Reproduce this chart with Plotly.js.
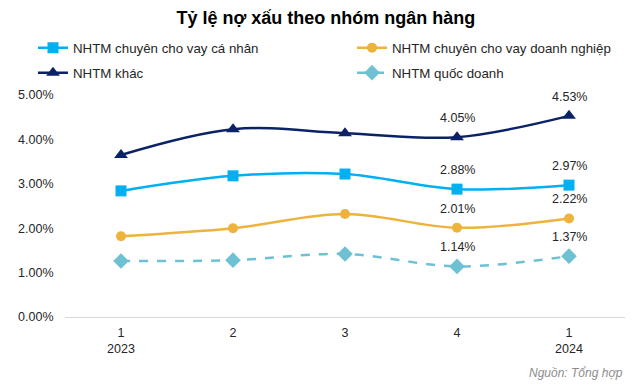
<!DOCTYPE html>
<html><head><meta charset="utf-8">
<script src="https://cdn.plot.ly/plotly-3.0.1.min.js"></script>
<style>html,body{margin:0;padding:0;background:#fff}#chart{width:639px;height:387px}</style>
</head><body><div id="chart"></div>
<script>
const categories = ["1<br>2023", "2", "3", "4", "1<br>2024"];
const caNhan = [2.84, 3.18, 3.22, 2.88, 2.97];
const doanhNghiep = [1.82, 2.00, 2.32, 2.01, 2.22];
const khac = [3.65, 4.23, 4.14, 4.05, 4.53];
const quocDoanh = [1.26, 1.28, 1.42, 1.14, 1.37];
const yTicks = [0, 1, 2, 3, 4, 5];
const labelFrom = 3;

const font = "Liberation Sans, Arial, sans-serif";
function tr(name, y, color, symbol, size, dash, legend){
  return {x: categories, y: y, name: name, type: 'scatter', mode: 'lines+markers',
    line: {color: color, width: 2.5, shape: 'spline', smoothing: 1, dash: dash},
    marker: {color: color, symbol: symbol, size: size},
    legend: legend, cliponaxis: false};
}
const series = [
  {name: 'NHTM chuyên cho vay cá nhân', y: caNhan, color: '#00B0F0', symbol: 'square', size: 11, dash: 'solid', legend: 'legend'},
  {name: 'NHTM chuyên cho vay doanh nghiệp', y: doanhNghiep, color: '#EDB33C', symbol: 'circle', size: 10, dash: 'solid', legend: 'legend2'},
  {name: 'NHTM khác', y: khac, color: '#0B2366', symbol: 'triangle-up', size: 12, dash: 'solid', legend: 'legend3'},
  {name: 'NHTM quốc doanh', y: quocDoanh, color: '#6EC1D3', symbol: 'diamond', size: 12, dash: 'dash', legend: 'legend4'}
];
const data = series.map(s => tr(s.name, s.y, s.color, s.symbol, s.size, s.dash, s.legend));

const annotations = [];
series.forEach(s => {
  s.y.forEach((v, i) => {
    if (i >= labelFrom) annotations.push({x: i, y: v, xref: 'x', yref: 'y', text: v.toFixed(2) + '%',
      showarrow: false, yshift: 19, yanchor: 'middle', font: {size: 12.5, color: '#262626', family: font}});
  });
});
annotations.push({text: '<i>Nguồn: Tổng hợp</i>', xref: 'paper', yref: 'paper', x: 1, y: -0.25, xanchor: 'right', yanchor: 'middle',
  showarrow: false, font: {size: 12, color: '#8c8c8c', family: font}});

const legendBase = {orientation: 'h', xref: 'container', yref: 'container', xanchor: 'left', yanchor: 'middle',
  font: {size: 13.3, color: '#262626', family: font}, itemwidth: 30, bgcolor: 'rgba(0,0,0,0)'};
const layout = {
  width: 639, height: 387,
  margin: {l: 65, r: 14, t: 95, b: 70},
  paper_bgcolor: '#fff', plot_bgcolor: '#fff',
  font: {family: font, color: '#262626', size: 12.5},
  title: {text: '<b>Tỷ lệ nợ xấu theo nhóm ngân hàng</b>', x: 0.51, xref: 'container', y: 0.953, yref: 'container', yanchor: 'middle',
    font: {size: 18, color: '#000', family: "Liberation Sans Narrow, Liberation Sans, Arial, sans-serif"}},
  showlegend: true,
  legend: Object.assign({}, legendBase, {x: 33/639, y: 1 - 48/387}),
  legend2: Object.assign({}, legendBase, {x: 352/639, y: 1 - 48/387}),
  legend3: Object.assign({}, legendBase, {x: 33/639, y: 1 - 73/387}),
  legend4: Object.assign({}, legendBase, {x: 352/639, y: 1 - 73/387}),
  xaxis: {type: 'category', range: [-0.5, 4.5], showgrid: false, showline: true, linecolor: '#d9d9d9', linewidth: 1,
    ticks: 'outside', ticklen: 4, tickcolor: 'rgba(0,0,0,0)', tickfont: {size: 12.5, color: '#262626'}, zeroline: false},
  yaxis: {range: [0, 5], tickvals: yTicks, ticktext: yTicks.map(v => v.toFixed(2) + '%'), showgrid: false, zeroline: false,
    showline: false, ticks: 'outside', ticklen: 8, tickcolor: 'rgba(0,0,0,0)', tickfont: {size: 12.5, color: '#262626'}},
  annotations: annotations
};
Plotly.newPlot('chart', data, layout, {displayModeBar: false, staticPlot: true});
</script></body></html>
